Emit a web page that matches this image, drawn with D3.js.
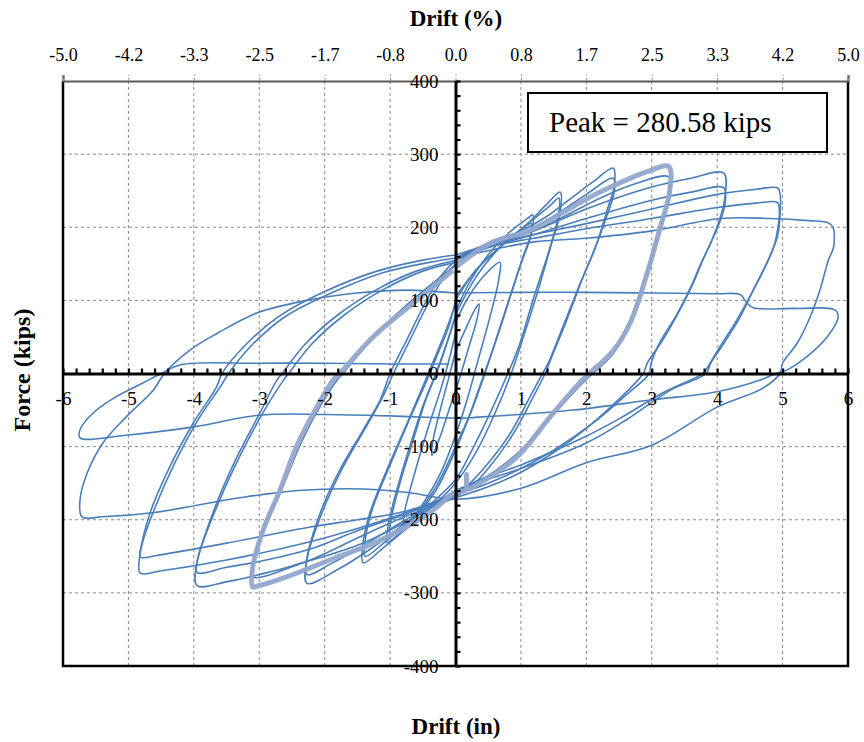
<!DOCTYPE html>
<html><head><meta charset="utf-8">
<script src="https://cdn.jsdelivr.net/npm/d3@7"></script>
<style>body{margin:0;background:#fff} svg{display:block}</style>
</head><body><svg id="c" width="864" height="742"></svg>
<script>
// ---------- tick data ----------
const xTicks = [-6,-5,-4,-3,-2,-1,0,1,2,3,4,5,6];
const xTickLabels = ["-6","-5","-4","-3","-2","-1","0","1","2","3","4","5","6"];
const topTickLabels = ["-5.0","-4.2","-3.3","-2.5","-1.7","-0.8","0.0","0.8","1.7","2.5","3.3","4.2","5.0"];
const yTicks = [-400,-300,-200,-100,0,100,200,300,400];
const yTickLabels = ["-400","-300","-200","-100","0","100","200","300","400"];
const xMinorStep = 0.2, yMinorStep = 20;
const peakLabel = "Peak = 280.58 kips";
const topTitle = "Drift (%)", bottomTitle = "Drift (in)", yTitle = "Force (kips)";

// ---------- hysteresis cycles: [drift (in), force (kips)] ----------
const cycleA = [[0,30],[0.15,60],[0.3,88],[0.36,95],[0.33,75],[0.2,35],[0.05,-10],[-0.1,-50],[-0.25,-90],[-0.36,-112],[-0.34,-90],[-0.22,-45],[-0.1,-5],[0,30]];
const cycleB = [[0,70],[0.2,105],[0.45,135],[0.68,152],[0.66,128],[0.52,75],[0.35,20],[0.18,-35],[0,-85],[-0.25,-140],[-0.55,-185],[-0.8,-214],[-0.78,-190],[-0.62,-135],[-0.42,-75],[-0.22,-20],[-0.08,25],[0,55]];
const cycleC1 = [[0,85],[0.25,130],[0.55,168],[0.85,195],[1.1,212],[1.18,217],[1.17,196],[1.03,159],[0.85,110],[0.65,55],[0.45,0],[0.25,-50],[0,-105],[-0.3,-160],[-0.65,-200],[-0.9,-222],[-1.05,-231],[-1.03,-208],[-0.9,-160],[-0.7,-100],[-0.48,-40],[-0.3,0],[-0.12,45],[0,80]];
const cycleC2 = [[0,80],[0.3,130],[0.6,165],[0.9,190],[1.16,205],[1.14,185],[1.0,150],[0.82,100],[0.62,45],[0.42,-5],[0.2,-60],[0,-100],[-0.3,-155],[-0.6,-192],[-1.0,-220],[-0.98,-198],[-0.85,-150],[-0.65,-92],[-0.45,-35],[-0.25,10],[-0.1,50],[0,78]];
const cycleD1 = [[0,100],[0.3,140],[0.7,175],[1.1,205],[1.4,232],[1.6,248],[1.6,220],[1.45,172],[1.25,110],[1.02,45],[0.85,0],[0.6,-55],[0.3,-110],[0,-150],[-0.35,-182],[-0.75,-212],[-1.1,-238],[-1.41,-259],[-1.42,-237],[-1.31,-191],[-1.05,-132],[-0.74,-68],[-0.5,-18],[-0.3,25],[-0.12,65],[0,95]];
const cycleD2 = [[0,105],[0.35,145],[0.75,178],[1.15,208],[1.45,230],[1.58,240],[1.57,215],[1.42,165],[1.2,105],[0.98,40],[0.8,0],[0.55,-50],[0.25,-105],[0,-145],[-0.4,-180],[-0.8,-210],[-1.1,-232],[-1.38,-250],[-1.38,-228],[-1.27,-185],[-1.0,-125],[-0.7,-62],[-0.45,-12],[-0.28,25],[-0.1,65],[0,100]];
const cycleE1 = [[0,158],[0.5,178],[1.0,195],[1.4,215],[1.8,242],[2.1,262],[2.41,281],[2.43,258],[2.32,224],[2.16,178],[1.95,132],[1.7,73],[1.45,18],[1.37,0],[1.2,-30],[0.9,-80],[0.5,-130],[0.2,-158],[0,-168],[-0.4,-185],[-0.8,-207],[-1.3,-240],[-1.8,-268],[-2.27,-287],[-2.28,-258],[-2.07,-191],[-1.77,-132],[-1.41,-77],[-1.15,-36],[-1.0,0],[-0.75,45],[-0.5,90],[-0.25,130],[0,155]];
const cycleE2 = [[0,155],[0.5,175],[1.0,190],[1.5,215],[2.0,245],[2.41,267],[2.43,250],[2.3,212],[2.12,168],[1.9,122],[1.66,68],[1.42,15],[1.33,0],[1.15,-30],[0.85,-80],[0.45,-128],[0.15,-156],[0,-165],[-0.4,-182],[-0.8,-202],[-1.4,-235],[-1.9,-260],[-2.27,-275],[-2.26,-250],[-2.03,-188],[-1.72,-128],[-1.36,-72],[-1.1,-30],[-0.95,0],[-0.7,45],[-0.45,90],[-0.2,128],[0,150]];
const cycleF1 = [[0,145],[0.53,178],[1.14,196],[1.6,218],[2.05,241],[2.62,265],[2.93,276],[3.26,283],[3.27,247],[3.13,200],[2.93,137],[2.67,69],[2.42,32],[2.17,10],[1.95,-8],[1.45,-59],[0.94,-114],[0.33,-152],[0.18,-158],[0.17,-138],[0.15,-160],[0,-162],[-0.39,-190],[-1.15,-228],[-1.92,-255],[-2.58,-278],[-3.04,-291],[-3.1,-292],[-3.1,-265],[-2.94,-214],[-2.68,-159],[-2.43,-100],[-2.12,-46],[-1.87,-9],[-1.77,0],[-1.26,50],[-0.65,96],[-0.04,141]];
const cycleF2 = [[0,150],[0.6,180],[1.1,192],[1.6,212],[2.1,235],[2.7,258],[3.26,269],[3.27,245],[3.12,195],[2.9,132],[2.64,66],[2.4,26],[2.2,8],[2.0,-8],[1.5,-55],[1.0,-105],[0.4,-145],[0,-160],[-0.4,-185],[-0.8,-205],[-1.5,-235],[-2.3,-258],[-3.1,-278],[-3.08,-255],[-2.9,-205],[-2.62,-150],[-2.36,-95],[-2.05,-42],[-1.8,-8],[-1.72,0],[-1.2,55],[-0.6,105],[0,148]];
const cycleG1 = [[0,158],[0.6,178],[1.2,195],[2,225],[3,255],[3.6,267],[4.1,274],[4.12,242],[4.05,214],[3.94,187],[3.78,155],[3.63,123],[3.43,87],[3.17,46],[2.93,14],[2.87,0],[2.5,-35],[2.0,-75],[1.5,-108],[1.0,-135],[0.5,-155],[0,-170],[-0.75,-195],[-1.5,-225],[-2.22,-255],[-3.0,-275],[-3.5,-285],[-3.95,-290],[-3.96,-262],[-3.65,-177],[-3.34,-114],[-2.99,-54],[-2.73,-9],[-2.65,0],[-2.3,40],[-1.8,80],[-1.2,115],[-0.6,140],[0,155]];
const cycleG2 = [[0,155],[0.6,175],[1.2,190],[2,212],[3,237],[3.6,248],[4.1,254],[4.12,232],[4.03,205],[3.9,178],[3.74,148],[3.58,115],[3.38,80],[3.12,42],[2.99,14],[2.96,0],[2.6,-30],[2.1,-68],[1.5,-105],[1.0,-130],[0.5,-150],[0,-166],[-0.75,-192],[-1.5,-215],[-2.22,-240],[-3.0,-257],[-3.5,-265],[-3.95,-272],[-3.93,-250],[-3.6,-172],[-3.28,-110],[-2.92,-50],[-2.62,-8],[-2.55,0],[-2.2,40],[-1.7,80],[-1.1,115],[-0.5,140],[0,152]];
const cycleH1 = [[0,162],[0.6,178],[1.2,190],[2,205],[3,225],[4,245],[4.6,252],[4.92,254],[4.96,247],[4.96,214],[4.92,187],[4.76,151],[4.55,114],[4.35,77],[4.1,41],[3.9,14],[3.83,0],[3.3,-22],[2.6,-64],[2.0,-95],[1.0,-130],[0.27,-152],[0,-165],[-0.75,-190],[-1.5,-212],[-2.22,-230],[-3.5,-255],[-4.52,-270],[-4.82,-273],[-4.82,-246],[-4.67,-191],[-4.37,-128],[-4.01,-68],[-3.65,-18],[-3.57,0],[-3.2,40],[-2.7,78],[-2.0,112],[-1.2,140],[-0.5,155],[0,162]];
const cycleH2 = [[0,158],[0.6,175],[1.2,185],[2,198],[3,212],[4,227],[4.6,233],[4.92,234],[4.95,225],[4.93,200],[4.86,172],[4.7,140],[4.5,105],[4.28,70],[4.03,35],[3.85,8],[3.78,0],[3.2,-25],[2.5,-62],[1.9,-90],[1.0,-125],[0.3,-148],[0,-163],[-0.75,-188],[-1.5,-200],[-2.22,-210],[-3.5,-232],[-4.52,-248],[-4.82,-251],[-4.78,-230],[-4.6,-185],[-4.3,-124],[-3.94,-64],[-3.58,-16],[-3.47,0],[-3.1,40],[-2.6,78],[-1.9,110],[-1.1,138],[-0.4,152],[0,158]];
const cycleI1 = [[0,158],[0.6,170],[1.2,180],[2,185],[3,195],[4.05,212],[4.8,212],[5.4,209],[5.7,206],[5.77,200],[5.78,173],[5.7,155],[5.57,114],[5.42,77],[5.22,41],[5.0,14],[4.96,0],[4.7,-20],[4.0,-46],[3.0,-98],[2.0,-122],[1.0,-157],[0,-172],[-0.7,-163],[-1.4,-158],[-2.4,-160],[-3.3,-170],[-4.6,-190],[-5.4,-196],[-5.71,-196],[-5.74,-173],[-5.63,-136],[-5.39,-95],[-5.03,-59],[-4.62,-23],[-4.45,0],[-4.06,32],[-3.64,55],[-3.03,83],[-2.27,100],[-1.51,110],[-0.74,114],[0,110]];
const cycleI2 = [[0,110],[1,111],[2,111],[3,110],[4,109],[4.35,108],[4.45,97],[4.55,90],[5.2,89],[5.8,87],[5.85,77],[5.68,50],[5.37,23],[5.07,5],[4.9,0],[4.66,-9],[4.0,-25],[3.0,-36],[1.8,-50],[0.3,-60],[0.1,-61],[-1,-58],[-2,-56],[-3,-57],[-4,-73],[-5,-84],[-5.74,-88],[-5.74,-77],[-5.54,-54],[-5.23,-34],[-4.78,-13],[-4.5,0],[-4.2,12],[-3,14],[-2,14],[-1,13],[-0.1,13]];

const normalCycles = [cycleA, cycleB, cycleC1, cycleC2, cycleD1, cycleD2, cycleE1, cycleE2, cycleF2, cycleG1, cycleG2, cycleH1, cycleH2, cycleI1, cycleI2];
const highlightCycles = [cycleF1];

// ---------- drawing ----------
const svg = d3.select("#c");
const L = 63, R = 848, T = 81, B = 666;
const x = d3.scaleLinear().domain([-6,6]).range([L,R]);
const y = d3.scaleLinear().domain([-400,400]).range([B,T]);
const serif = "'Liberation Serif','Times New Roman',serif";

// grid
const grid = svg.append("g").attr("stroke","#8a8a8a").attr("stroke-width",1).attr("stroke-dasharray","3,3");
grid.selectAll("line.v").data(xTicks.filter(d=>d!==0 && Math.abs(d)!==6)).join("line")
  .attr("x1",d=>x(d)).attr("x2",d=>x(d)).attr("y1",T).attr("y2",B);
grid.selectAll("line.h").data(yTicks.filter(d=>d!==0 && Math.abs(d)!==400)).join("line")
  .attr("x1",L).attr("x2",R).attr("y1",d=>y(d)).attr("y2",d=>y(d));

// frame (left/right/bottom black)
svg.append("path").attr("d",`M${L},${T}V${B}H${R}V${T}`).attr("fill","none").attr("stroke","#000").attr("stroke-width",2.5);

// top axis (drift %)
const topAx = svg.append("g").attr("transform",`translate(0,${T})`)
  .call(d3.axisTop(x).tickValues(xTicks).tickFormat((d,i)=>topTickLabels[i]).tickSize(6).tickPadding(14));
topAx.select(".domain").attr("stroke","#5a5a5a").attr("stroke-width",2.2);
topAx.selectAll(".tick line").attr("stroke","#8a8a8a").attr("stroke-dasharray","3,2");
topAx.selectAll("text").attr("font-family",serif).attr("font-size",19).attr("fill","#000").attr("transform","scale(0.95,1)");

// curves
const line = d3.line().x(d=>x(d[0])).y(d=>y(d[1])).curve(d3.curveCatmullRom.alpha(0.5));
svg.append("g").selectAll("path").data(normalCycles).join("path")
  .attr("d",line).attr("fill","none").attr("stroke","#4a7ebb").attr("stroke-width",1.6).attr("stroke-linejoin","round");
svg.append("g").selectAll("path").data(highlightCycles).join("path")
  .attr("d",line).attr("fill","none").attr("stroke","#94a8ce").attr("stroke-width",5).attr("stroke-linejoin","round").attr("opacity",0.95);

// x axis at force = 0
const xAx = svg.append("g").attr("transform",`translate(0,${y(0)})`)
  .call(d3.axisBottom(x).tickValues(xTicks).tickFormat((d,i)=>xTickLabels[i]).tickSize(0).tickPadding(18));
xAx.select(".domain").attr("stroke","#000").attr("stroke-width",3);
xAx.selectAll("text").attr("font-family",serif).attr("font-size",19).attr("fill","#000");
const xMinor = svg.append("g").attr("transform",`translate(0,${y(0)})`)
  .call(d3.axisTop(x).tickValues(d3.range(-6, 6.0001, xMinorStep)).tickSize(5).tickFormat(""));
xMinor.select(".domain").remove();
xMinor.selectAll(".tick line").attr("stroke","#000").attr("stroke-width",2.2);

// y axis at drift = 0
const yAx = svg.append("g").attr("transform",`translate(${x(0)},0)`)
  .call(d3.axisLeft(y).tickValues(yTicks).tickFormat((d,i)=>yTickLabels[i]).tickSize(0).tickPadding(17));
yAx.select(".domain").attr("stroke","#000").attr("stroke-width",3);
yAx.selectAll("text").attr("font-family",serif).attr("font-size",19).attr("fill","#000");
const yMinor = svg.append("g").attr("transform",`translate(${x(0)},0)`)
  .call(d3.axisRight(y).tickValues(d3.range(-400, 400.001, yMinorStep)).tickSize(5).tickFormat(""));
yMinor.select(".domain").remove();
yMinor.selectAll(".tick line").attr("stroke","#000").attr("stroke-width",2.2);

// peak box
svg.append("rect").attr("x",528).attr("y",93).attr("width",299).attr("height",59)
  .attr("fill","#fff").attr("stroke","#000").attr("stroke-width",2);
svg.append("text").attr("x",549).attr("y",132).attr("font-family",serif).attr("font-size",29).text(peakLabel);

// titles
svg.append("text").attr("x",456).attr("y",26).attr("text-anchor","middle").attr("font-family",serif)
  .attr("font-weight","bold").attr("font-size",23).text(topTitle);
svg.append("text").attr("x",456).attr("y",734).attr("text-anchor","middle").attr("font-family",serif)
  .attr("font-weight","bold").attr("font-size",23).text(bottomTitle);
svg.append("text").attr("transform",`translate(30,370) rotate(-90)`).attr("text-anchor","middle").attr("font-family",serif)
  .attr("font-weight","bold").attr("font-size",24).text(yTitle);
</script></body></html>
